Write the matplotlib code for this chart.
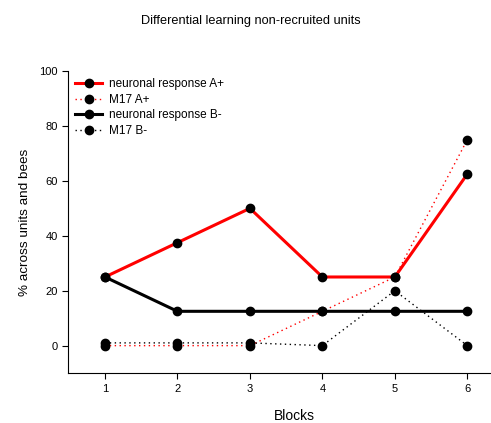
import matplotlib.pyplot as plt
import numpy as np

plt.rcParams['font.family'] = ['Liberation Sans', 'DejaVu Sans']

blocks = [1, 2, 3, 4, 5, 6]
resp_a = [25, 37.5, 50, 25, 25, 62.5]
m17_a = [0, 0, 0, 12.5, 25, 75]
resp_b = [25, 12.5, 12.5, 12.5, 12.5, 12.5]
m17_b = [1, 1, 1, 0, 20, 0]

fig = plt.figure(figsize=(4.91, 4.23), dpi=100)
ax = fig.add_axes([0.1385, 0.118, 0.862, 0.714])

ax.plot(blocks, resp_a, color='red', lw=2.2, marker='o', ms=6, mfc='black', mec='black', label='neuronal response A+')
ax.plot(blocks, m17_a, color='red', lw=1, ls=(0, (1, 2.5)), marker='o', ms=6, mfc='black', mec='black', label='M17 A+')
ax.plot(blocks, resp_b, color='black', lw=2.2, marker='o', ms=6, label='neuronal response B-')
ax.plot(blocks, m17_b, color='black', lw=1, ls=(0, (1, 2.5)), marker='o', ms=6, label='M17 B-')

ax.set_xlim(0.49, 6.33)
ax.set_ylim(-10, 100)
ax.set_xticks(blocks)
ax.set_yticks([0, 20, 40, 60, 80, 100])
ax.spines['top'].set_visible(False)
ax.spines['right'].set_visible(False)
ax.tick_params(labelsize=8, length=4, width=0.8)
ax.set_xlabel('Blocks', fontsize=10)
ax.xaxis.set_label_coords(0.535, -0.118)
ax.set_ylabel('% across units and bees', fontsize=9.7, labelpad=6)
ax.legend(loc='upper left', frameon=False, fontsize=8.5, handlelength=2.3,
          handletextpad=0.6, labelspacing=0.3, borderaxespad=0.2)

fig.text(0.511, 0.943, 'Differential learning non-recruited units', ha='center', fontsize=9.2)

plt.savefig('out.png')
